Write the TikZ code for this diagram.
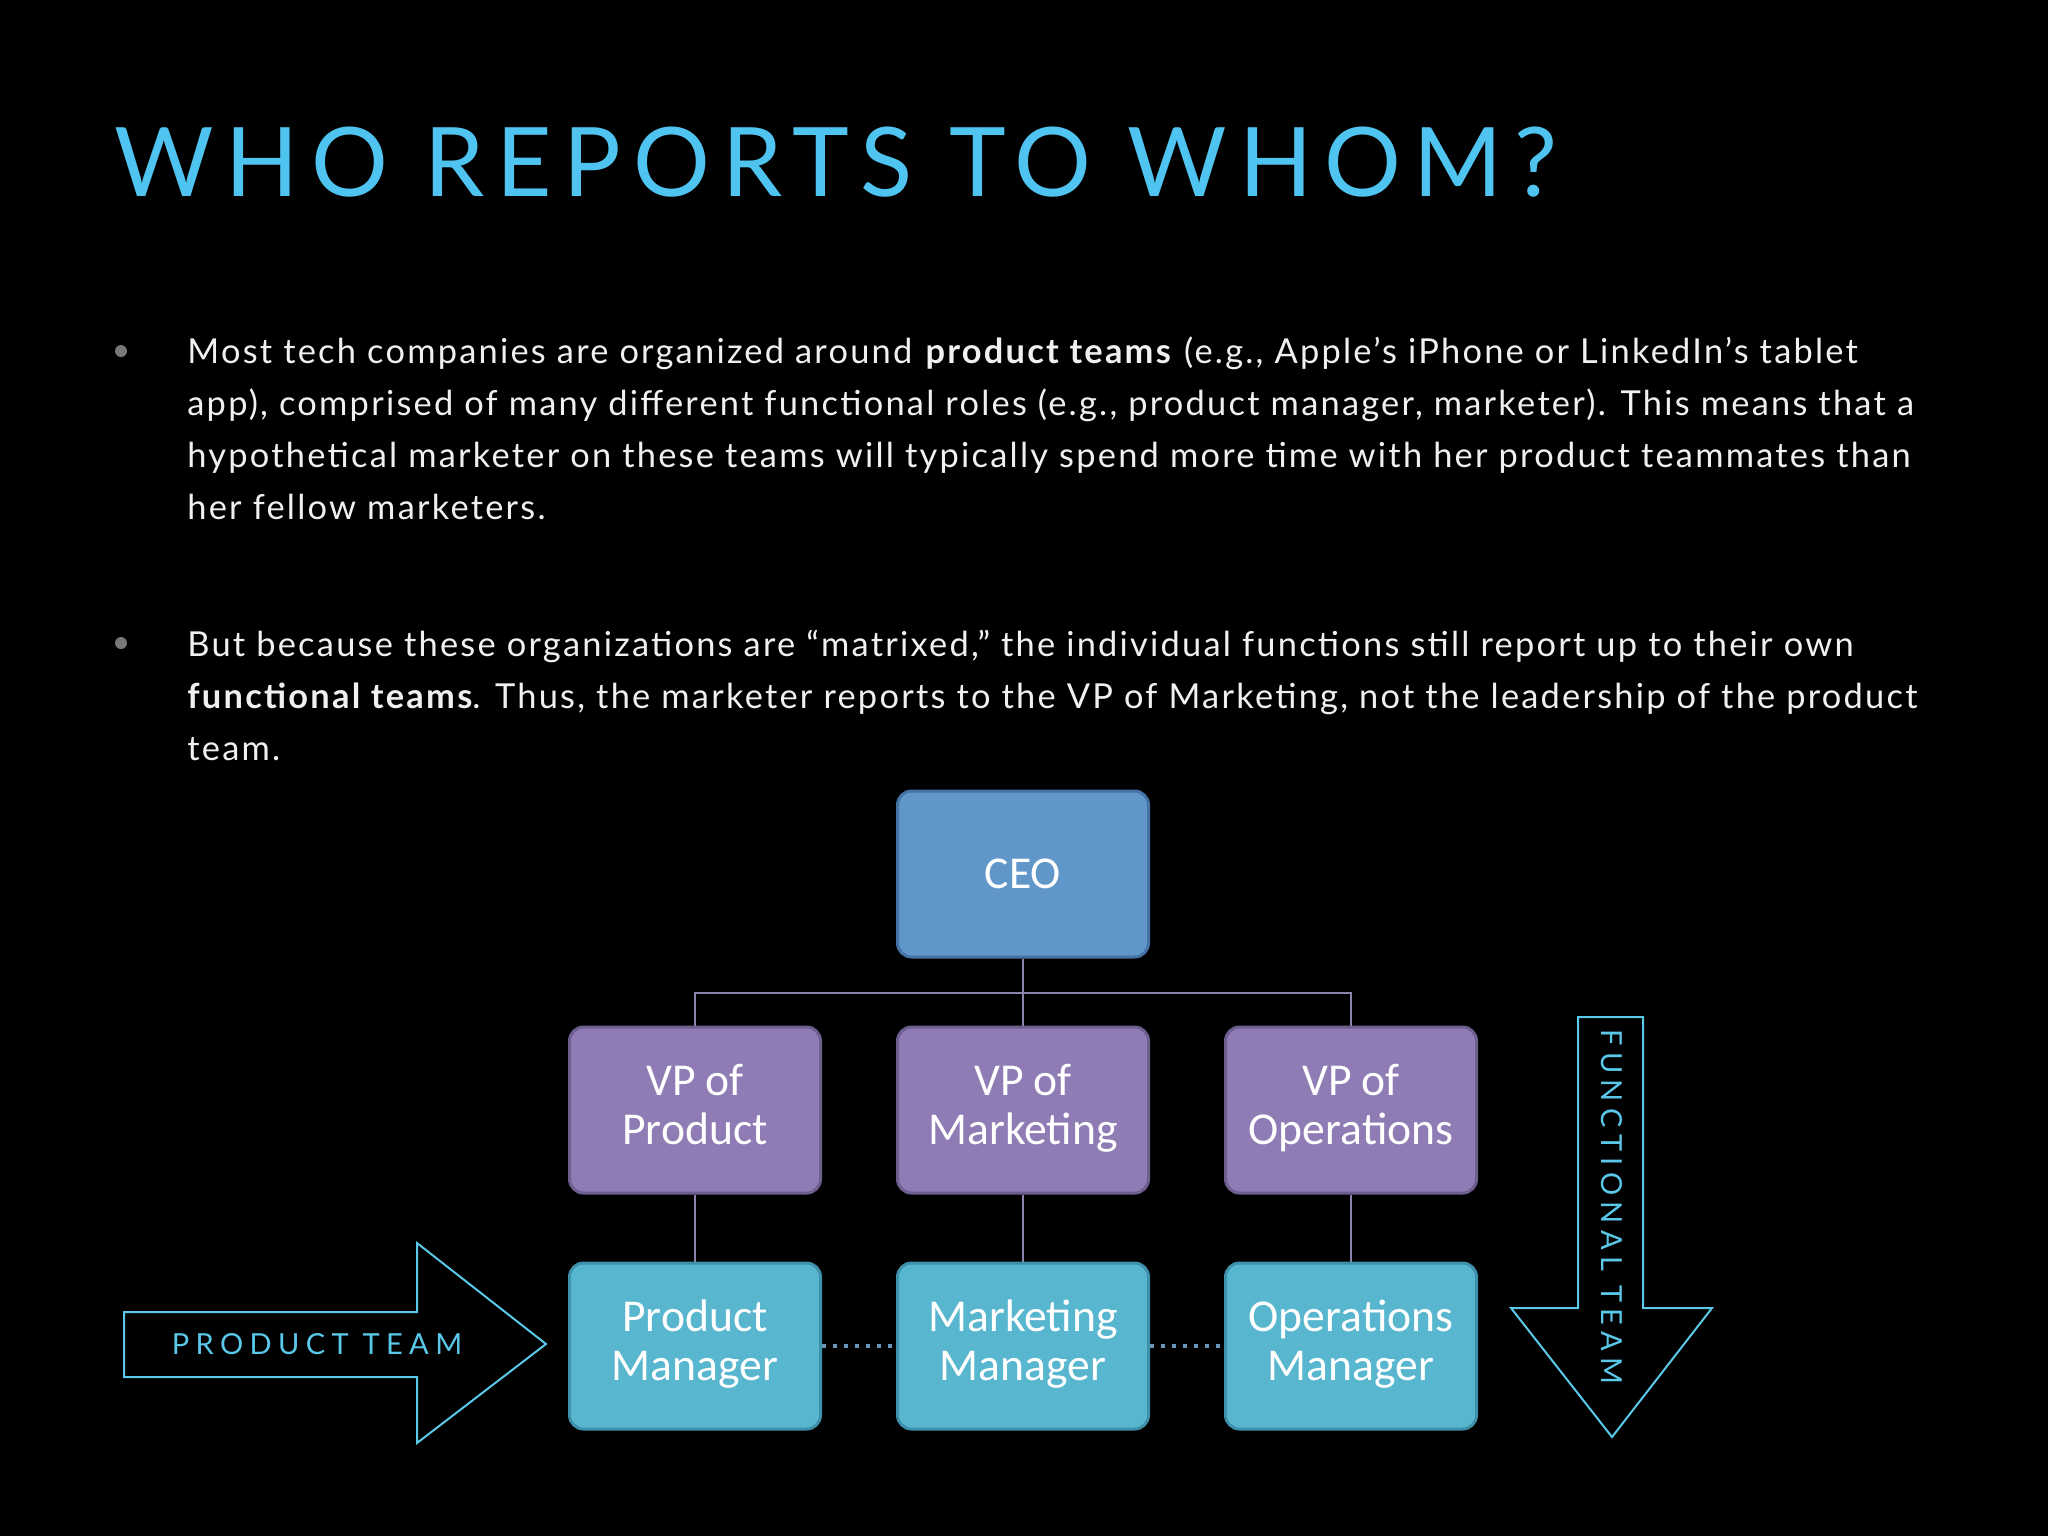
\documentclass[tikz,border=0pt]{standalone}
\usepackage{fontspec}
\setmainfont{Lato}[LetterSpace=6.5]
\newfontfamily\boxfont{Carlito}
\newfontfamily\titlefont[LetterSpace=12.4]{Lato}
\newfontfamily\capsfont[LetterSpace=22]{Lato}
\usetikzlibrary{positioning, calc}

\definecolor{titlecyan}{RGB}{80,196,240}
\definecolor{arrowcyan}{RGB}{90,200,232}
\definecolor{bodywhite}{RGB}{240,240,240}
\definecolor{bulletgray}{RGB}{120,120,120}
\definecolor{ceofill}{RGB}{96,150,200}
\definecolor{ceoline}{RGB}{70,115,165}
\definecolor{vpfill}{RGB}{143,124,180}
\definecolor{vpline}{RGB}{110,95,145}
\definecolor{mgrfill}{RGB}{88,183,207}
\definecolor{mgrline}{RGB}{62,145,170}
\definecolor{treeline}{RGB}{140,130,175}
\definecolor{dotline}{RGB}{105,150,185}

\begin{document}
\begin{tikzpicture}[x=0.5pt, y=-0.5pt,
    orgbox/.style={draw, line width=1.5pt, rounded corners=7pt, minimum width=125.5pt,
        minimum height=83pt, align=center, text=white, inner sep=0pt,
        font=\boxfont\fontsize{22.8}{24.5}\selectfont},
    ceobox/.style={orgbox, fill=ceofill, draw=ceoline},
    vpbox/.style={orgbox, fill=vpfill, draw=vpline},
    mgrbox/.style={orgbox, fill=mgrfill, draw=mgrline},
    para/.style={anchor=base west, align=left, text=bodywhite, inner sep=0pt,
        font=\fontsize{17.2}{25.9}\selectfont},
    outline/.style={draw=arrowcyan, line width=1pt}]
    % Hintergrund
    \fill[black] (0,0) rectangle (2048,1536);
    \useasboundingbox (0,0) rectangle (2048,1536);

    % Titel
    \node[anchor=base west, inner sep=0pt, text=titlecyan, font=\titlefont\fontsize{48}{48}\selectfont]
        (title) at (114,196) {WHO REPORTS TO WHOM?};

    % Aufzaehlung (Anker = Grundlinie der letzten Zeile)
    \fill[bulletgray] (121,351) circle (3pt);
    \node[para] (para1) at (187,519) {Most tech companies are organized around \textbf{product teams} (e.g., Apple’s iPhone or LinkedIn’s tablet\\
        app), comprised of many different functional roles (e.g., product manager, marketer). This means that a\\
        hypothetical marketer on these teams will typically spend more time with her product teammates than\\
        her fellow marketers.};
    \fill[bulletgray] (121,643) circle (3pt);
    \node[para] (para2) at (187,760) {But because these organizations are “matrixed,” the individual functions still report up to their own\\
        \textbf{functional teams}. Thus, the marketer reports to the VP of Marketing, not the leadership of the product\\
        team.};

    % Organigramm
    \node[ceobox] (ceo) at (1023,874) {CEO};
    \node[vpbox, below=33.5pt of ceo] (vpmkt) {VP of\strut\\Marketing\strut};
    \node[vpbox, left=37pt of vpmkt] (vpprod) {VP of\strut\\Product\strut};
    \node[vpbox, right=37pt of vpmkt] (vpops) {VP of\strut\\Operations\strut};
    \foreach \n/\lbl in {prod/Product, mkt/Marketing, ops/Operations} {
        \node[mgrbox, below=33.5pt of vp\n] (mgr\n) {\lbl\strut\\Manager\strut};
        \draw[treeline, line width=1pt] (vp\n.south) -- (mgr\n.north);
    }
    \coordinate (bus) at (1023,993);
    \draw[treeline, line width=1pt] (ceo.south) -- (vpmkt.north);
    \draw[treeline, line width=1pt] (vpprod.north) |- (bus) -| (vpops.north);
    \draw[dotline, line width=2pt, dash pattern=on 2pt off 3.5pt] (mgrprod.east) -- (mgrmkt.west);
    \draw[dotline, line width=2pt, dash pattern=on 2pt off 3.5pt] (mgrmkt.east) -- (mgrops.west);

    % Pfeile
    \draw[outline] (124,1312) -- (417,1312) -- (417,1243) -- (546,1344) -- (417,1443)
        -- (417,1377) -- (124,1377) -- cycle;
    \node[text=arrowcyan, font=\capsfont\fontsize{14.5}{14.5}\selectfont] (prodteam) at (317,1344) {PRODUCT TEAM};
    \draw[outline] (1578,1017) -- (1643,1017) -- (1643,1308) -- (1712,1308) -- (1612,1437)
        -- (1511,1308) -- (1578,1308) -- cycle;
    \node[rotate=-90, text=arrowcyan, font=\capsfont\fontsize{14.5}{14.5}\selectfont] (functeam) at (1612,1207) {FUNCTIONAL TEAM};
\end{tikzpicture}
\end{document}
